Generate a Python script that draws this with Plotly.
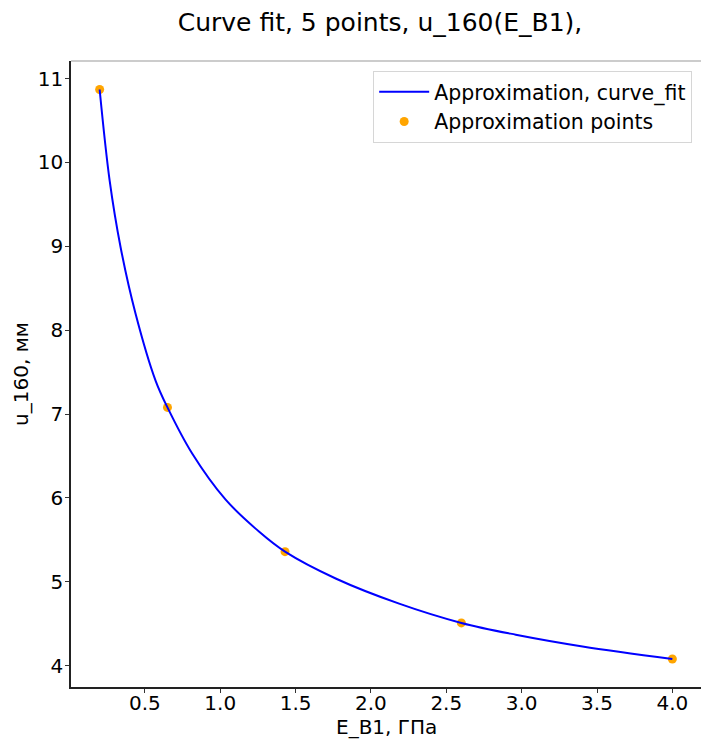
import plotly.graph_objects as go

# Measured points: E_B1 (GPa) vs u_160 (mm)
points_x = [0.2, 0.65, 1.43, 2.6, 4.0]
points_y = [10.87, 7.08, 5.36, 4.51, 4.08]

# Fitted curve (curve_fit result), sampled along E_B1
curve_x = [0.2, 0.266, 0.339, 0.438, 0.571, 0.65, 0.814, 1.036, 1.257, 1.43,
           1.766, 2.187, 2.6, 2.961, 3.404, 4.0]
curve_y = [10.87, 9.79, 8.99, 8.20, 7.40, 7.08, 6.53, 5.98, 5.60, 5.36,
           5.04, 4.74, 4.51, 4.37, 4.23, 4.08]

FONT = "DejaVu Sans"

fig = go.Figure()

fig.add_trace(go.Scatter(
    x=points_x, y=points_y, mode="markers",
    name="Approximation points",
    marker=dict(color="#ffa500", size=9),
    legendrank=2,
))
fig.add_trace(go.Scatter(
    x=curve_x, y=curve_y, mode="lines",
    name="Approximation, curve_fit",
    line=dict(color="#0000ff", width=2, shape="spline", smoothing=1.0),
    legendrank=1,
))

fig.update_layout(
    width=701, height=740,
    margin=dict(l=71, r=0, t=61, b=53),
    paper_bgcolor="white", plot_bgcolor="white",
    font=dict(family=FONT, size=20, color="black"),
    title=dict(
        text="Curve fit, 5 points, u_160(E_B1),",
        x=380 / 701, xanchor="center", xref="container",
        y=1 - 22 / 740, yanchor="middle", yref="container",
        font=dict(family=FONT, size=25, color="black"),
    ),
    showlegend=True,
    legend=dict(
        x=0.986, xanchor="right", y=0.984, yanchor="top",
        bgcolor="rgba(255,255,255,0.8)",
        bordercolor="#d6d6d6", borderwidth=1,
        font=dict(family=FONT, size=20.5, color="black"),
        itemwidth=50,
    ),
    xaxis=dict(
        range=[0.01, 4.19],
        tickvals=[0.5, 1.0, 1.5, 2.0, 2.5, 3.0, 3.5, 4.0],
        ticktext=["0.5", "1.0", "1.5", "2.0", "2.5", "3.0", "3.5", "4.0"],
        ticks="outside", ticklen=4, tickwidth=1, tickcolor="#333",
        ticklabelstandoff=-7,
        showline=True, linecolor="#222", linewidth=1.5,
        showgrid=False, zeroline=False,
        tickfont=dict(family=FONT, size=20),
    ),
    yaxis=dict(
        range=[3.746, 11.21],
        tickvals=[4, 5, 6, 7, 8, 9, 10, 11],
        ticks="outside", ticklen=4, tickwidth=1, tickcolor="#333",
        ticklabelstandoff=-2,
        showline=True, linecolor="#222", linewidth=1.5,
        showgrid=False, zeroline=False,
        title=dict(text="u_160, мм", standoff=4,
                   font=dict(family=FONT, size=20)),
        tickfont=dict(family=FONT, size=20),
    ),
    annotations=[dict(
        text="E_B1, ГПа", showarrow=False,
        xref="paper", x=0.5, xanchor="center",
        yref="paper", y=-(727 - 687) / 626, yanchor="middle",
        font=dict(family=FONT, size=20, color="black"),
    )],
    shapes=[dict(
        type="line", xref="paper", yref="paper",
        x0=0, x1=1, y0=1, y1=1,
        line=dict(color="#cccccc", width=2),
    )],
)

fig.write_html("out.html")
